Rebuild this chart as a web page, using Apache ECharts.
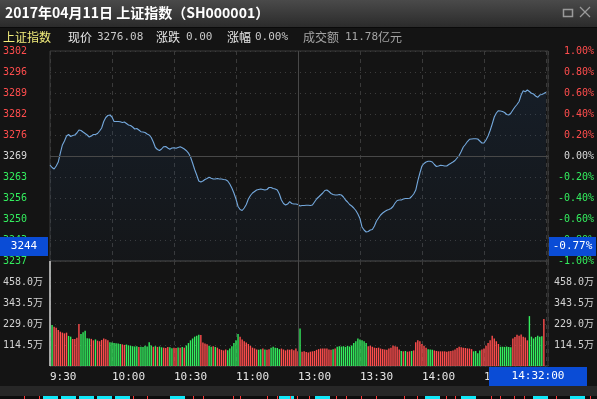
<!DOCTYPE html>
<html>
<head>
<meta charset="utf-8">
<title>上证指数 分时</title>
<script src="https://cdn.jsdelivr.net/npm/echarts@6.0.0/dist/echarts.min.js"></script>
<style>
  html, body { margin: 0; padding: 0; background: #141414; }
  #chart { width: 597px; height: 399px; }
</style>
</head>
<body>
<div id="chart"></div>
<script>
// 昨收
const basePrice = 3269.39;

// 时间轴标签，每30分钟一个
const timeLabels = ['9:30', '10:00', '10:30', '11:00', '13:00', '13:30', '14:00', '14:30', '15:00'];

// 分时价格（每分钟一个点，9:30 ~ 15:00）
const prices = [
  3266.59, 3265.81, 3265.34, 3266.28, 3267.52, 3270.32, 3272.82, 3274.06, 3275.62, 3276.08,
  3275.46, 3275.77, 3275.93, 3276.55, 3277.49, 3277.33, 3276.86, 3276.40, 3275.93, 3275.31,
  3275.62, 3276.08, 3276.08, 3276.40, 3277.17, 3278.11, 3280.13, 3281.38, 3282.00, 3282.16,
  3281.53, 3280.13, 3280.13, 3280.13, 3280.04, 3279.82, 3279.98, 3279.51, 3279.04, 3278.89,
  3278.42, 3277.80, 3277.95, 3277.49, 3276.96, 3276.86, 3276.71, 3276.24, 3275.93, 3275.15,
  3273.75, 3272.04, 3271.41, 3271.10, 3271.57, 3272.29, 3272.35, 3271.88, 3271.48, 3271.88,
  3271.94, 3271.79, 3272.04, 3272.25, 3271.94, 3271.57, 3271.04, 3270.32, 3269.08, 3267.21,
  3265.19, 3263.47, 3261.61, 3261.29, 3261.61, 3262.07, 3262.38, 3262.76, 3262.48, 3262.23,
  3262.23, 3262.38, 3262.23, 3262.23, 3262.07, 3261.98, 3261.61, 3260.67, 3259.43, 3257.87,
  3256.00, 3253.67, 3252.73, 3252.42, 3253.20, 3254.29, 3256.00, 3257.09, 3257.87, 3258.34,
  3258.80, 3258.96, 3259.11, 3258.96, 3258.80, 3258.96, 3259.58, 3259.58, 3259.27, 3259.11,
  3258.80, 3257.56, 3255.69, 3254.60, 3254.13, 3254.44, 3255.16, 3254.60, 3254.44, 3254.44,
  3254.29, 3253.82, 3253.98, 3253.98, 3254.04, 3254.04, 3253.98, 3254.13, 3255.07, 3256.00,
  3256.62, 3257.25, 3257.87, 3258.65, 3258.80, 3258.34, 3257.71, 3257.40, 3257.25, 3257.25,
  3257.40, 3257.25, 3256.62, 3255.69, 3255.07, 3254.29, 3253.82, 3253.20, 3252.42, 3251.33,
  3249.93, 3247.28, 3246.35, 3245.73, 3245.88, 3246.35, 3246.50, 3247.59, 3249.15, 3250.09,
  3251.02, 3251.64, 3252.11, 3252.48, 3252.73, 3253.04, 3253.67, 3254.76, 3255.53, 3255.69,
  3255.69, 3256.00, 3256.16, 3256.16, 3256.22, 3256.78, 3257.56, 3258.80, 3261.61, 3264.10,
  3266.28, 3267.05, 3267.52, 3267.74, 3267.74, 3267.52, 3266.74, 3266.12, 3266.28, 3266.49,
  3266.43, 3266.28, 3266.28, 3266.74, 3267.12, 3267.52, 3267.99, 3268.77, 3269.55, 3270.79,
  3272.19, 3272.97, 3273.90, 3274.59, 3274.68, 3274.75, 3274.78, 3274.68, 3274.06, 3273.44,
  3273.44, 3274.37, 3275.62, 3277.33, 3279.35, 3281.53, 3282.78, 3283.50, 3283.40, 3283.25,
  3282.93, 3282.31, 3282.16, 3282.69, 3283.71, 3284.65, 3285.43, 3286.36, 3288.38, 3289.72,
  3289.41, 3289.94, 3289.47, 3288.94, 3288.70, 3288.07, 3287.67, 3288.38, 3288.54, 3288.85,
  3289.22
];

// 成交量（万），第一根为集合竞价
const volumes = [
  900,
  224, 214, 209, 196, 187, 182, 178, 182, 164, 160,
  147, 147, 154, 229, 174, 184, 192, 151, 150, 148,
  140, 145, 138, 135, 142, 150, 146, 140, 130, 128,
  126, 124, 122, 120, 118, 115, 117, 113, 110, 108,
  106, 108, 104, 105, 104, 110, 106, 130, 112, 105,
  108, 104, 106, 102, 100, 98, 104, 102, 97, 100,
  98, 101, 99, 103, 100, 112, 125, 140, 150, 160,
  165, 170, 169, 128, 122, 118, 110, 105, 108, 104,
  100, 92, 88, 85, 90, 86, 95, 108, 125, 140,
  175, 160, 145, 135, 128, 120, 110, 100, 96, 90,
  88, 92, 95, 90, 88, 92, 100, 105, 100, 98,
  92, 95, 90, 85, 90, 88, 92, 86, 95, 80,
  205, 78, 80, 76, 74, 78, 80, 82, 88, 92,
  95, 95, 95, 95, 90, 88, 92, 96, 105, 108,
  106, 108, 104, 110, 106, 112, 125, 135, 150, 145,
  140, 135, 125, 108, 110, 105, 100, 98, 100, 95,
  92, 90, 88, 95, 100, 112, 108, 105, 90, 82,
  80, 82, 78, 80, 82, 85, 130, 140, 135, 120,
  110, 100, 92, 90, 88, 85, 82, 80, 80, 80,
  80, 78, 80, 82, 85, 90, 98, 105, 102, 100,
  98, 96, 95, 92, 80, 82, 70, 85, 90, 95,
  110, 125, 140, 165, 150, 135, 120, 105, 105, 104,
  106, 104, 102, 150, 158, 170, 165, 172, 160, 155,
  140, 272, 160, 150, 158, 165, 160, 162, 256, 0
];

// 量柱颜色：r 涨 g 跌 w 平
const volDir =
  'w' +
  'grrrrrrrgg' + 'rrrrgggggr' + 'rgrrrrrrgg' + 'ggggrrgggg' + 'ggrggggggr' +
  'grggrrrggr' + 'rgrgrggggg' + 'ggrrrrggrg' + 'rrrrrggggg' + 'grrrrrrrrr' +
  'ggrgrrgggg' + 'grrrrrrrrr' + 'grrrrrrrrr' + 'rrrrrrgrgg' + 'gggggggggg' +
  'gggrrrrrrr' + 'rrrrrrrrrg' + 'rgrrgrrrrr' + 'rrgggrrrrr' + 'rrrrrrrrrr' +
  'rrrrggggrr' + 'rrrrrrrggg' + 'gggrrrrrrr' + 'rgggggggrw';

const RED = '#ff4d4d';
const GREEN = '#33ee5e';
const MONO = 'DejaVu Sans Mono';
const CJK = 'Noto Sans CJK SC';

const lineData = prices.map((p, i) => [i, (p / basePrice - 1) * 100]);
const volData = volumes.map((v, i) => ({
  value: [i, v],
  itemStyle: { color: volDir[i] === 'r' ? RED : volDir[i] === 'g' ? GREEN : '#dcdcdc' }
}));

function pctColor(v) {
  const n = parseFloat(v);
  if (n > 1e-6) return RED;
  if (n < -1e-6) return GREEN;
  return '#d8d8d8';
}

function txt(x, y, text, fill, font, align) {
  return {
    type: 'text', z: 100, silent: true,
    style: {
      x: x, y: y, text: text, fill: fill, font: font,
      align: align || 'left', verticalAlign: 'middle',
      textAlign: align || 'left', textVerticalAlign: 'middle'
    }
  };
}
function box(x, y, w, h, fill) {
  return { type: 'rect', z: 90, silent: true, shape: { x: x, y: y, width: w, height: h }, style: { fill: fill } };
}

let myChart = echarts.init(document.getElementById('chart'));

// 顶部标题栏、信息栏、十字光标标签、底部条
let graphics = [
  {
    type: 'rect', z: 80, silent: true,
    shape: { x: 0, y: 0, width: 597, height: 27 },
    style: {
      fill: new echarts.graphic.LinearGradient(0, 0, 0, 1, [
        { offset: 0, color: '#4a4a4a' },
        { offset: 1, color: '#2b2b2b' }
      ])
    }
  },
  box(0, 27, 597, 1, '#0a0a0a'),
  txt(5, 13, '2017年04月11日 上证指数（SH000001）', '#ffffff', 'bold 14px "' + CJK + '"'),
  { type: 'rect', z: 100, silent: true, shape: { x: 563.5, y: 9.5, width: 9, height: 7 }, style: { fill: 'none', stroke: '#9a9a9a', lineWidth: 1.5 } },
  { type: 'line', z: 100, silent: true, shape: { x1: 580, y1: 7, x2: 590, y2: 17 }, style: { stroke: '#9a9a9a', lineWidth: 1.2 } },
  { type: 'line', z: 100, silent: true, shape: { x1: 590, y1: 7, x2: 580, y2: 17 }, style: { stroke: '#9a9a9a', lineWidth: 1.2 } },

  txt(3, 37, '上证指数', '#f3ee7c', '12px "' + CJK + '"'),
  txt(68, 37, '现价', '#e8e8e8', '12px "' + CJK + '"'),
  txt(97, 37, '3276.08', '#c8c8c8', '11px "' + MONO + '"'),
  txt(156, 37, '涨跌', '#e8e8e8', '12px "' + CJK + '"'),
  txt(186, 37, '0.00', '#c8c8c8', '11px "' + MONO + '"'),
  txt(227, 37, '涨幅', '#e8e8e8', '12px "' + CJK + '"'),
  txt(255, 37, '0.00%', '#c8c8c8', '11px "' + MONO + '"'),
  txt(303, 37, '成交额', '#a4a4a4', '12px "' + CJK + '"'),
  txt(345, 37, '11.78', '#a4a4a4', '11px "' + MONO + '"'),
  txt(378, 37, '亿元', '#a4a4a4', '12px "' + CJK + '"'),

  box(0, 237, 48, 19, '#0a4cd6'),
  txt(24, 246.5, '3244', '#ffffff', '11px "' + MONO + '"', 'center'),
  box(549, 237, 47, 19, '#0a4cd6'),
  txt(572.5, 246.5, '-0.77%', '#ffffff', '11px "' + MONO + '"', 'center'),
  box(489, 367, 98, 19, '#0a4cd6'),
  txt(538, 376.5, '14:32:00', '#ffffff', '11px "' + MONO + '"', 'center'),

  box(0, 386, 597, 10, '#272727'),
  box(0, 396, 597, 3, '#0d0d0d')
];
[43, 61, 79, 97, 115, 170, 279, 315, 425, 461, 533, 570].forEach(function (x) {
  graphics.push(box(x, 396, 15, 3, '#10e8f8'));
});
[24, 39, 133, 147, 193, 203, 233, 240, 267, 277, 290, 297, 309, 336, 346, 361, 376, 404, 417, 446, 455, 491, 500, 514, 524, 556, 590].forEach(function (x) {
  graphics.push(box(x, 396, 1, 3, '#ff3a3a'));
});

let splitDash = { show: true, lineStyle: { color: '#3a3a3a', type: [4, 4], width: 1 } };
let splitDot = { show: true, lineStyle: { color: '#3c3c3c', type: [1, 4], width: 1 } };
let breakLine = {
  silent: true, symbol: 'none', animation: false, label: { show: false },
  lineStyle: { color: '#484848', type: 'solid', width: 1 },
  data: [{ xAxis: 120 }]
};

let option = {
  backgroundColor: '#141414',
  animation: false,
  grid: [
    { left: 49, top: 51, width: 499, height: 210, show: true, borderColor: '#3a3a3a', backgroundColor: 'transparent' },
    { left: 49, top: 261, width: 499, height: 105, show: true, borderColor: '#3a3a3a', backgroundColor: 'transparent' }
  ],
  xAxis: [
    {
      gridIndex: 0, type: 'value', min: 0, max: 241, interval: 30,
      axisLine: { show: false }, axisTick: { show: false }, axisLabel: { show: false },
      splitLine: splitDash
    },
    {
      gridIndex: 1, type: 'value', min: 0, max: 241, interval: 30,
      axisLine: { show: false }, axisTick: { show: false },
      axisLabel: {
        show: true, align: 'left', margin: 6, color: '#e6e6e6', fontFamily: MONO, fontSize: 11,
        formatter: function (v) { return v % 30 === 0 ? timeLabels[v / 30] : ''; }
      },
      splitLine: splitDash
    }
  ],
  yAxis: [
    {
      gridIndex: 0, type: 'value', position: 'left', min: -1, max: 1, interval: 0.2,
      axisLine: { show: false }, axisTick: { show: false },
      axisLabel: {
        align: 'left', margin: 47, fontFamily: MONO, fontSize: 10, color: pctColor,
        formatter: function (v) { return String(Math.round(basePrice * (1 + v / 100))); }
      },
      splitLine: splitDot
    },
    {
      gridIndex: 0, type: 'value', position: 'right', min: -1, max: 1, interval: 0.2,
      axisLine: { show: false }, axisTick: { show: false },
      axisLabel: {
        align: 'right', margin: 46, fontFamily: MONO, fontSize: 10, color: pctColor,
        formatter: function (v) { return (Math.abs(v) < 1e-9 ? 0 : v).toFixed(2) + '%'; }
      },
      splitLine: { show: false }
    },
    {
      gridIndex: 1, type: 'value', position: 'left', min: 0, max: 572.5, interval: 114.5,
      axisLine: { show: false }, axisTick: { show: false },
      axisLabel: {
        align: 'left', margin: 47, fontFamily: MONO + ', ' + CJK, fontSize: 10, color: '#d2d2d2',
        formatter: function (v) { return v > 0 && v < 572.5 ? v.toFixed(1) + '万' : ''; }
      },
      splitLine: splitDot
    },
    {
      gridIndex: 1, type: 'value', position: 'right', min: 0, max: 572.5, interval: 114.5,
      axisLine: { show: false }, axisTick: { show: false },
      axisLabel: {
        align: 'right', margin: 46, fontFamily: MONO + ', ' + CJK, fontSize: 10, color: '#d2d2d2',
        formatter: function (v) { return v > 0 && v < 572.5 ? v.toFixed(1) + '万' : ''; }
      },
      splitLine: { show: false }
    }
  ],
  series: [
    {
      name: '价格', type: 'line', xAxisIndex: 0, yAxisIndex: 0,
      data: lineData, symbol: 'none', showSymbol: false,
      lineStyle: { color: '#74a8dc', width: 1.1 },
      areaStyle: {
        origin: 'start',
        color: new echarts.graphic.LinearGradient(0, 0, 0, 1, [
          { offset: 0, color: 'rgba(30,70,120,0.27)' },
          { offset: 1, color: 'rgba(30,70,120,0.07)' }
        ])
      },
      markLine: {
        silent: true, symbol: 'none', animation: false, label: { show: false },
        lineStyle: { color: '#484848', type: 'solid', width: 1 },
        data: [{ yAxis: 0 }, { xAxis: 120 }]
      }
    },
    {
      name: '成交量', type: 'bar', xAxisIndex: 1, yAxisIndex: 2,
      data: volData, barWidth: 1.4, markLine: breakLine
    }
  ],
  graphic: graphics
};

myChart.setOption(option);
</script>
</body>
</html>
